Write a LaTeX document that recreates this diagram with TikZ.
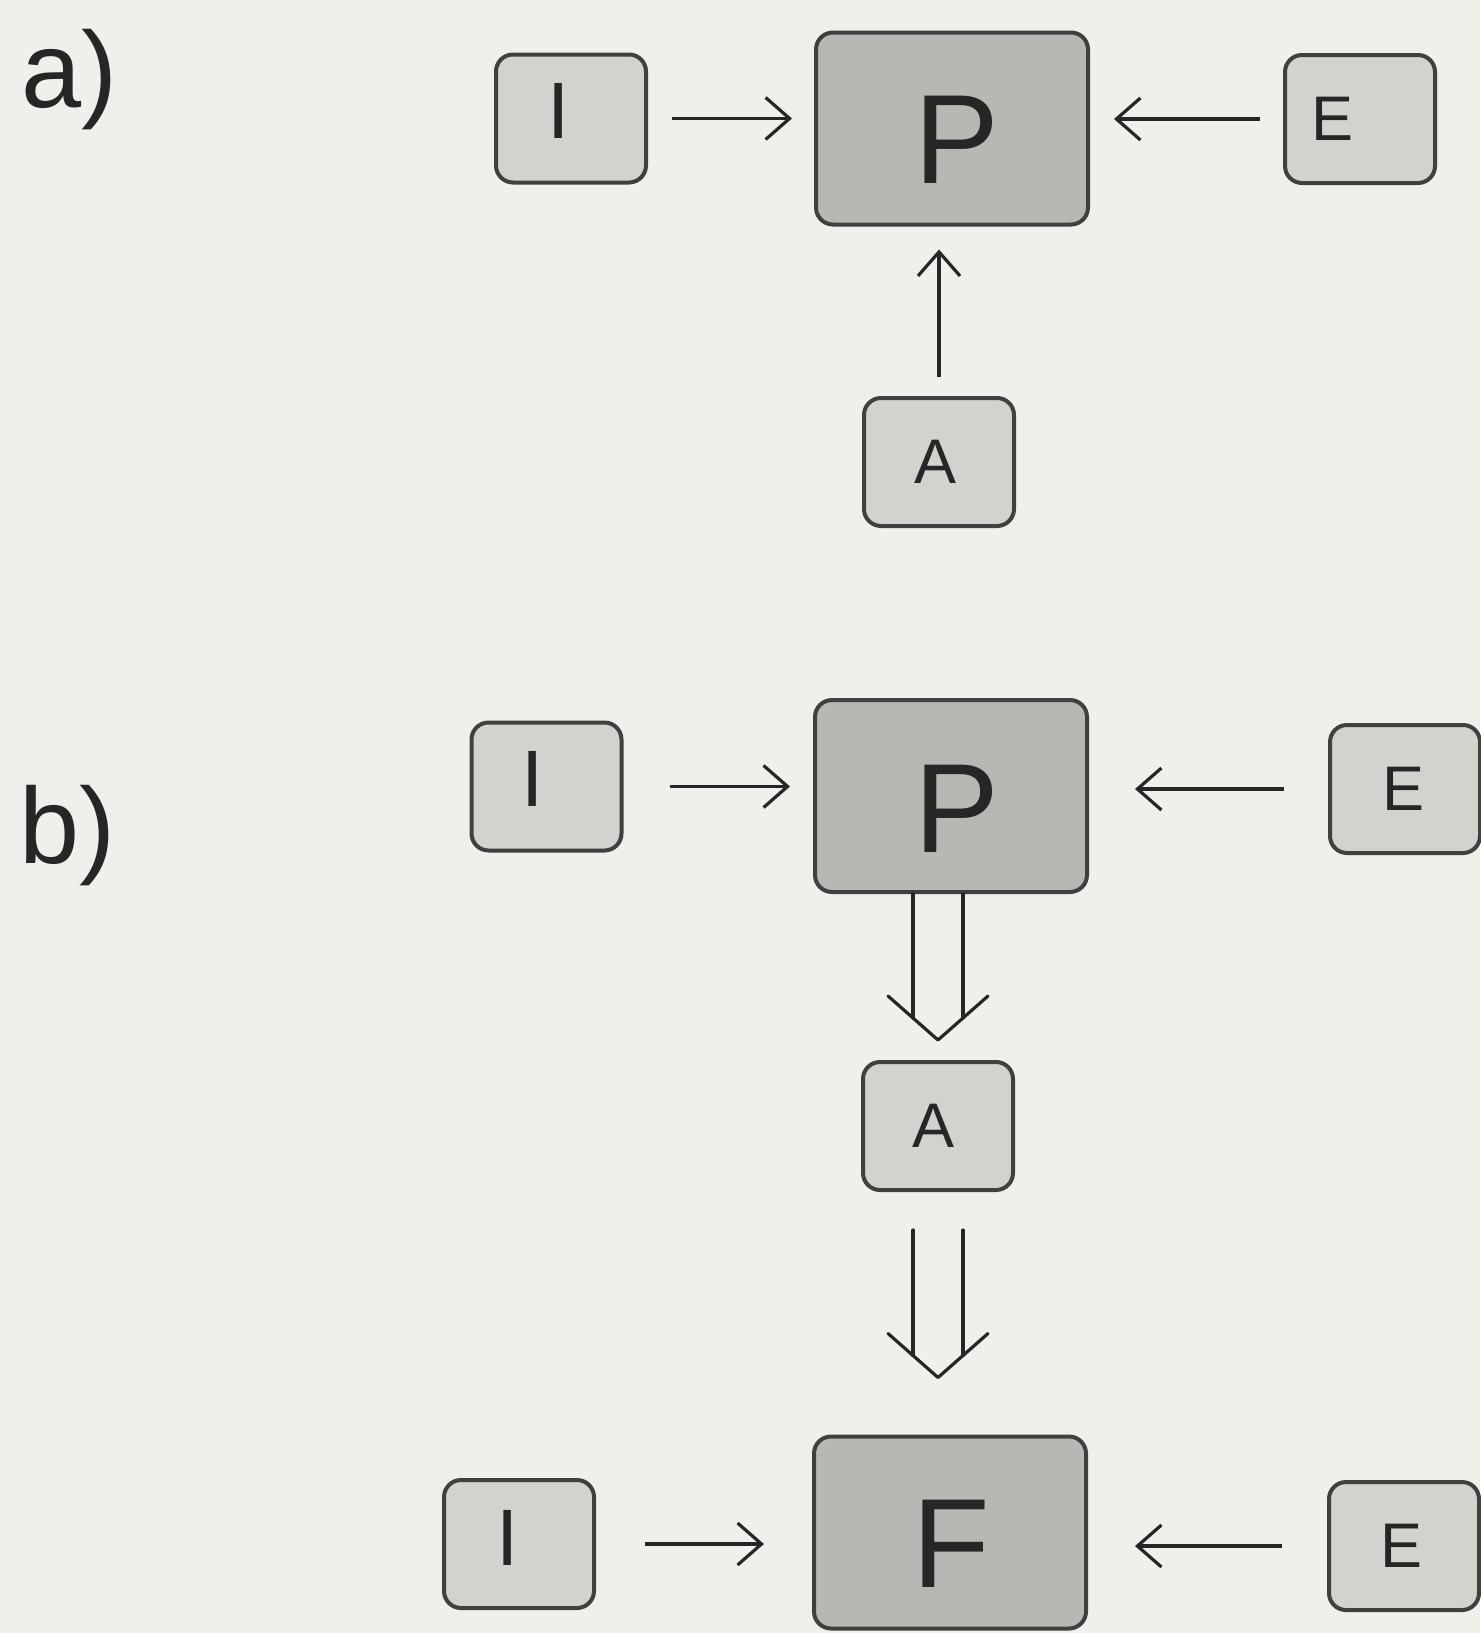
\documentclass[tikz,border=0pt]{standalone}
\usepackage{fontspec}
\setmainfont{Liberation Sans}
\usetikzlibrary{arrows.meta,calc}

\definecolor{paper}{HTML}{F0EFEB}
\definecolor{bigfill}{HTML}{B7B7B3}
\definecolor{smallfill}{HTML}{D2D2CE}
\definecolor{edge}{HTML}{404040}
\definecolor{ink}{HTML}{262626}

\tikzset{
  box/.style={draw=edge, line width=2pt, rounded corners=8.5pt, inner sep=0pt},
  bigbox/.style={box, fill=bigfill, minimum width=136pt, minimum height=96pt},
  smallbox/.style={box, fill=smallfill, minimum width=75pt, minimum height=64pt},
  bigletter/.style={anchor=base, inner sep=0pt, text=ink, font=\fontsize{63.5}{70}\selectfont},
  iletter/.style={anchor=base, inner sep=0pt, text=ink, font=\fontsize{40}{44}\selectfont},
  smallletter/.style={anchor=base, inner sep=0pt, text=ink, font=\fontsize{31.5}{36}\selectfont},
  panel/.style={anchor=base west, inner sep=0pt, text=ink, font=\fontsize{54}{60}\selectfont},
  arr/.style={draw=ink, line width=1.6pt, -{Straight Barb[length=12pt, width=21pt, line width=1.6pt]}},
  dbl/.style={draw=ink, line width=1.6pt, line cap=round, line join=round},
}

\begin{document}
\begin{tikzpicture}[x=0.5pt, y=-0.5pt]
  \useasboundingbox (0,0) rectangle (1480,1633);
  \fill[paper] (0,0) rectangle (1480,1633);

  % panel labels
  \node[panel] (la) at (21,107) {a)};
  \node[panel] (lb) at (19,863) {b)};

  % ---------- panel a ----------
  \node[bigbox]   (aP) at (952,128.5) {};
  \node[smallbox] (aI) at (571,118.5) {};
  \node[smallbox] (aE) at (1360,119) {};
  \node[smallbox] (aA) at (939,462) {};

  \node[bigletter]   (aPt) at ($(aP.center)+(5,54.5)$) {P};
  \node[iletter]     (aIt) at ($(aI.center)+(-12,19.5)$) {I};
  \node[smallletter] (aEt) at ($(aE.center)+(-28,21)$) {E};
  \node[smallletter] (aAt) at ($(aA.center)+(-4,21)$) {A};

  \draw[arr, shorten <=12pt, shorten >=11pt] (aI.east) -- (aI.east -| aP.west);
  \draw[arr, shorten <=11.5pt, shorten >=12pt] (aE.west) -- (aE.west -| aP.east);
  \draw[arr, shorten <=9.5pt, shorten >=11.5pt] (aA.north) -- (aA.north |- aP.south);

  % ---------- panel b ----------
  \node[bigbox]   (bP) at (951,796) {};
  \node[smallbox] (bI) at (546.5,786.5) {};
  \node[smallbox] (bE) at (1405,789) {};
  \node[smallbox] (bA) at (938,1126) {};
  \node[bigbox]   (bF) at (950,1532.5) {};
  \node[smallbox] (cI) at (519,1544) {};
  \node[smallbox] (cE) at (1404,1546) {};

  \node[bigletter]   (bPt) at ($(bP.center)+(6,56)$) {P};
  \node[iletter]     (bIt) at ($(bI.center)+(-13.5,20)$) {I};
  \node[smallletter] (bEt) at ($(bE.center)+(-2,21)$) {E};
  \node[smallletter] (bAt) at ($(bA.center)+(-5,21)$) {A};
  \node[bigletter]   (bFt) at ($(bF.center)+(1,54.5)$) {F};
  \node[iletter]     (cIt) at ($(cI.center)+(-11.5,21)$) {I};
  \node[smallletter] (cEt) at ($(cE.center)+(-3,21)$) {E};

  \draw[arr, shorten <=23pt, shorten >=11.5pt] (bI.east) -- (bI.east -| bP.west);
  \draw[arr, shorten <=22pt, shorten >=23pt] (bE.west) -- (bE.west -| bP.east);
  \draw[arr, shorten <=24.5pt, shorten >=24pt] (cI.east) -- (cI.east -| bF.west);
  \draw[arr, shorten <=22.5pt, shorten >=23.5pt] (cE.west) -- (cE.west -| bF.east);

  % hollow double arrow P => A
  \coordinate (t1) at ($(bA.north)+(0,-20)$);
  \coordinate (s1) at (bP.south -| bA.north);
  \draw[dbl] ($(s1)+(-25,0)$) -- ($(t1)+(-25,-22)$);
  \draw[dbl] ($(s1)+(25,0)$) -- ($(t1)+(25,-22)$);
  \draw[dbl] ($(t1)+(-50,-44)$) -- (t1) -- ($(t1)+(50,-44)$);

  % hollow double arrow A => F
  \coordinate (t2) at ($(bF.north -| bA.south)+(0,-57)$);
  \coordinate (s2) at ($(bA.south)+(0,38)$);
  \draw[dbl] ($(s2)+(-25,0)$) -- ($(t2)+(-25,-22)$);
  \draw[dbl] ($(s2)+(25,0)$) -- ($(t2)+(25,-22)$);
  \draw[dbl] ($(t2)+(-50,-44)$) -- (t2) -- ($(t2)+(50,-44)$);
\end{tikzpicture}
\end{document}
